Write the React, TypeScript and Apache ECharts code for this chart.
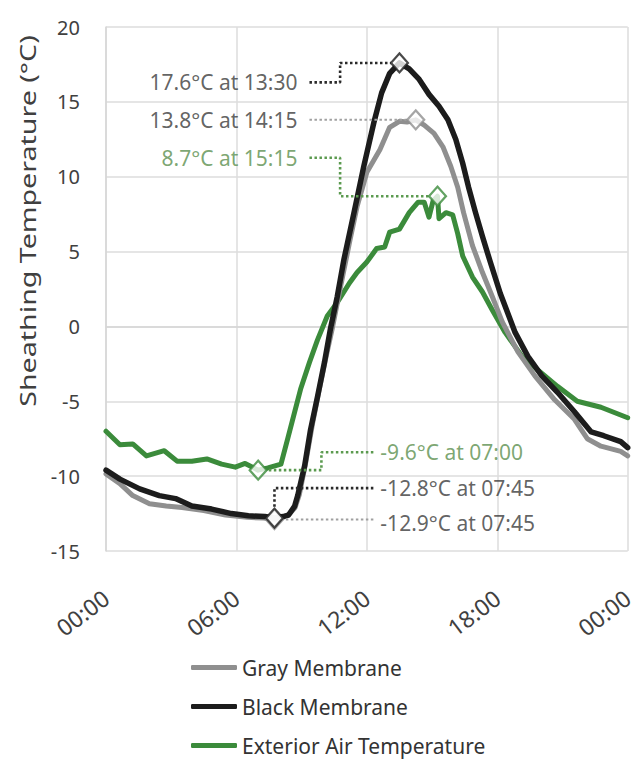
import React, { useEffect, useRef } from "react";
import * as echarts from "echarts";

const xTickLabels = ["00:00", "06:00", "12:00", "18:00", "00:00"];
const seriesNames = ["Gray Membrane", "Black Membrane", "Exterior Air Temperature"];
const yTitle = "Sheathing Temperature (°C)";

const grayHours = [0, 0.64, 1.23, 2.0, 2.77, 3.5, 4.5, 5.5, 6.5, 7.25, 7.75, 8.14, 8.45, 8.7, 8.9, 9.2, 9.5, 9.8, 10.1, 10.4, 10.7, 10.95, 11.23, 11.55, 12.0, 12.6, 13.05, 13.5, 13.85, 14.25, 14.64, 15.09, 15.5, 15.86, 16.18, 16.45, 16.86, 17.32, 17.77, 18.23, 18.95, 19.73, 20.64, 21.55, 22.14, 22.77, 23.68, 24];
const grayTemps = [-9.85, -10.5, -11.3, -11.85, -12.0, -12.1, -12.3, -12.6, -12.75, -12.8, -12.9, -12.75, -12.5, -12.1, -11.2, -9.0, -6.5, -4.3, -2.2, -0.2, 2.0, 3.8, 5.8, 8.0, 10.3, 11.8, 13.3, 13.7, 13.65, 13.8, 13.45, 12.9, 12.0, 10.7, 9.3, 7.6, 5.4, 3.6, 2.0, 0.3, -1.7, -3.3, -4.9, -6.2, -7.5, -8.0, -8.35, -8.65];

const blackHours = [0, 0.64, 1.55, 2.45, 3.2, 3.95, 4.86, 5.77, 6.55, 7.3, 7.75, 8.14, 8.4, 8.68, 8.82, 9.14, 9.41, 9.73, 10.05, 10.32, 10.64, 10.95, 11.41, 11.86, 12.32, 12.68, 13.05, 13.5, 13.95, 14.41, 14.86, 15.32, 15.73, 16.09, 16.41, 16.68, 17.0, 17.32, 17.68, 18.14, 18.82, 19.41, 20.05, 20.77, 21.55, 22.32, 22.9, 23.68, 24];
const blackTemps = [-9.6, -10.2, -10.85, -11.3, -11.5, -12.0, -12.2, -12.5, -12.65, -12.7, -12.8, -12.7, -12.6, -12.0, -11.3, -9.3, -6.9, -4.7, -2.4, -0.2, 2.0, 4.5, 7.6, 10.7, 13.6, 15.6, 16.9, 17.6, 17.2, 16.5, 15.5, 14.7, 13.8, 12.5, 10.9, 9.3, 7.6, 6.0, 4.3, 2.2, -0.4, -2.0, -3.3, -4.4, -5.7, -7.05, -7.3, -7.7, -8.1];

const airHours = [0, 0.64, 1.23, 1.86, 2.68, 3.27, 3.95, 4.64, 5.32, 5.95, 6.4, 7.0, 7.45, 8.05, 8.36, 8.68, 8.95, 9.36, 9.73, 10.18, 10.64, 11.2, 11.55, 12.0, 12.45, 12.82, 13.05, 13.5, 13.95, 14.36, 14.64, 14.86, 15.05, 15.25, 15.32, 15.64, 15.95, 16.18, 16.41, 16.86, 17.32, 17.77, 18.36, 19.14, 19.86, 20.77, 21.68, 22.77, 24];
const airTemps = [-7.0, -7.9, -7.85, -8.65, -8.3, -9.0, -9.0, -8.85, -9.2, -9.4, -9.15, -9.6, -9.45, -9.2, -7.5, -5.7, -4.2, -2.4, -0.9, 0.7, 1.6, 2.9, 3.6, 4.3, 5.2, 5.3, 6.3, 6.5, 7.6, 8.3, 8.3, 7.3, 8.4, 8.7, 7.2, 7.6, 7.45, 6.2, 4.7, 3.3, 2.3, 1.1, -0.4, -2.0, -2.9, -4.0, -5.0, -5.4, -6.1];

// extreme points: [hour, temperature]
const extremeHours = [13.5, 14.25, 15.25, 7.0, 7.75, 7.75];
const extremeTemps = [17.6, 13.8, 8.7, -9.6, -12.8, -12.9];
const extremeSeries = [1, 0, 2, 2, 1, 0];
const extremeLabels = [
  "17.6°C at 13:30",
  "13.8°C at 14:15",
  "8.7°C at 15:15",
  "-9.6°C at 07:00",
  "-12.8°C at 07:45",
  "-12.9°C at 07:45",
];

// leader line vertices in data space (hour, temperature); first vertex = label anchor
const leaderPaths = [
  [[9.36, 16.3], [10.77, 16.3], [10.77, 17.6], [13.1, 17.6]],
  [[9.36, 13.8], [13.85, 13.8]],
  [[9.36, 11.27], [10.77, 11.27], [10.77, 8.7], [14.88, 8.7]],
  [[12.3, -8.4], [9.91, -8.4], [9.91, -9.6], [7.36, -9.6]],
  [[12.3, -10.8], [7.75, -10.8], [7.75, -12.3]],
  [[12.3, -12.9], [8.12, -12.9]],
];

const lineColors = ["#8f8f8f", "#1c1c1c", "#3b8b3b"];
const textColors = ["#3a3a3a", "#3a3a3a", "#5b8f4e"];
const leaderColors = ["#a0a0a0", "#2a2a2a", "#5b9a4f"];
const FONT = "'Noto Sans', sans-serif";

function zip(a: number[], b: number[]) {
  return a.map((x, i) => [x, b[i]]);
}

export default function App() {
  const ref = useRef<HTMLDivElement>(null);
  useEffect(() => {
    if (!ref.current) return;
    const chart = echarts.init(ref.current, null, { renderer: "svg" });
    const mainData = [zip(grayHours, grayTemps), zip(blackHours, blackTemps), zip(airHours, airTemps)];
    const mainOrder = [2, 0, 1];
    const mainSeries = mainOrder.map((i) => ({
      name: seriesNames[i],
      type: "line",
      data: mainData[i],
      showSymbol: false,
      symbol: "none",
      color: lineColors[i],
      lineStyle: { color: lineColors[i], width: i === 1 ? 5.5 : 5, cap: "round", join: "round" },
      z: 2 + mainOrder.indexOf(i),
      silent: true,
    }));
    const leaderSeries = leaderPaths.map((p, k) => {
      const s = extremeSeries[k];
      return {
        type: "line",
        data: p,
        symbol: "none",
        silent: true,
        z: 6,
        lineStyle: { color: leaderColors[s], width: s === 0 ? 2 : 2.6, type: [2.5, 2.5] },
      };
    });
    const diamondOrder = [1, 0, 2, 3, 5, 4];
    const diamonds = {
      type: "scatter",
      symbol: "diamond",
      symbolSize: [17, 19],
      z: 10,
      silent: true,
      data: diamondOrder.map((k) => ({
        value: [extremeHours[k], extremeTemps[k]],
        itemStyle: { color: "#ffffff", borderColor: lineColors[extremeSeries[k]], borderWidth: 2.2 },
      })),
    };
    const labels = {
      type: "scatter",
      symbolSize: 0,
      z: 11,
      silent: true,
      data: leaderPaths.map((p, k) => {
        const left = k < 3;
        return {
          value: p[0],
          label: {
            show: true,
            formatter: extremeLabels[k],
            position: left ? "left" : "right",
            distance: left ? 12 : 7,
            color: textColors[extremeSeries[k]],
            fontSize: 21,
            fontFamily: FONT,
            offset: k === 5 ? [0, 3] : [0, 0],
          },
        };
      }),
    };
    chart.setOption({
      animation: false,
      backgroundColor: "#ffffff",
      grid: { left: 106, right: 3, top: 27, bottom: 208, containLabel: false },
      legend: {
        data: seriesNames,
        orient: "vertical",
        left: 186,
        top: 652,
        height: 110,
        icon: "roundRect",
        itemWidth: 46,
        itemHeight: 5,
        itemGap: 18,
        textStyle: { fontSize: 21, color: "#333333", fontFamily: FONT },
      },
      xAxis: {
        type: "value",
        min: 0,
        max: 24,
        interval: 6,
        axisLine: { show: true, lineStyle: { color: "#d6d6d6", width: 1.5 } },
        axisTick: { show: false },
        splitLine: { show: true, lineStyle: { color: "#dcdcdc", width: 1.5 } },
        axisLabel: {
          rotate: 37,
          margin: 44,
          fontSize: 23,
          color: "#404040",
          fontFamily: FONT,
          formatter: (v: number) => xTickLabels[Math.round(v / 6)],
        },
      },
      yAxis: {
        type: "value",
        min: -15,
        max: 20,
        interval: 5,
        axisLine: { show: true, lineStyle: { color: "#d6d6d6", width: 1.5 } },
        axisTick: { show: false },
        splitLine: { show: true, lineStyle: { color: "#dcdcdc", width: 1.5 } },
        axisLabel: { fontSize: 20, color: "#404040", fontFamily: FONT, margin: 26 },
      },
      graphic: [
        {
          type: "text",
          x: 27,
          y: 221,
          rotation: Math.PI / 2,
          scaleX: 1.3,
          silent: true,
          style: {
            text: yTitle,
            fontSize: 22,
            fontFamily: FONT,
            fill: "#404040",
            align: "center",
            verticalAlign: "middle",
            textAlign: "center",
            textVerticalAlign: "middle",
          },
        },
      ],
      series: [...mainSeries, ...leaderSeries, diamonds, labels],
    });
    return () => chart.dispose();
  }, []);
  return (
    <div
      ref={ref}
      style={{ position: "fixed", left: 0, top: 0, width: 637, height: 759, background: "#fff" }}
    />
  );
}
